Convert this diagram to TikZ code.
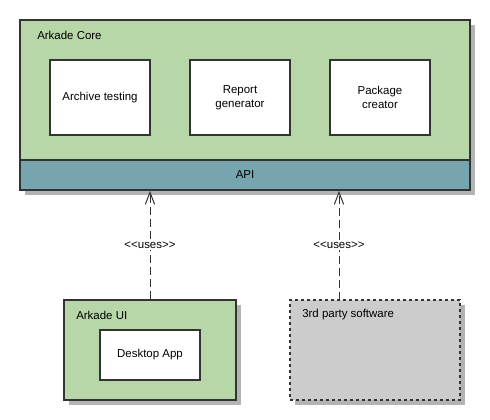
\documentclass[tikz,border=0pt]{standalone}
\usepackage{fontspec}
\setmainfont{Liberation Sans}
\usetikzlibrary{arrows.meta,shadows}

\definecolor{coregreen}{HTML}{B7D7A8}
\definecolor{apiteal}{HTML}{76A5AF}
\definecolor{thirdgray}{HTML}{CCCCCC}
\definecolor{boxline}{HTML}{333333}
\definecolor{shadowgray}{HTML}{B3B3B3}

\newcommand{\usestag}{<\kern0pt<uses>\kern0pt>}

\begin{document}
\begin{tikzpicture}[x=0.75pt,y=0.75pt,yscale=-1,xscale=1,
  font=\fontsize{8.6}{10.5}\selectfont,
  box/.style={draw=boxline, line width=1.5pt, inner sep=0pt, align=center},
  shadowed/.style={drop shadow={shadow xshift=3.5pt, shadow yshift=-3.5pt, fill=shadowgray, opacity=1}},
  uses/.style={draw=boxline, line width=0.75pt, dash pattern=on 6pt off 3pt, -{Straight Barb[length=9pt,width=7pt]}},
  tag/.style={fill=white, inner sep=1pt}]
\useasboundingbox (0,0) rectangle (490,420);

%Shape: Rectangle [core]
\node [box, shadowed, fill=coregreen, minimum width=337.5pt, minimum height=105pt] (core) at (245,90) {};
%Shape: Rectangle [api]
\node [box, shadowed, fill=apiteal, minimum width=337.5pt, minimum height=22.5pt] (api) at (245,175) {API};
%Shape: Rectangle [inner boxes]
\node [box, fill=white, minimum width=75pt, minimum height=56.25pt] (archive) at (100,97.5) {Archive testing};
\node [box, fill=white, minimum width=75pt, minimum height=56.25pt] (report) at (240,97.5) {Report\\generator};
\node [box, fill=white, minimum width=75pt, minimum height=56.25pt] (package) at (380,97.5) {Package\\creator};

%Shape: Rectangle [ui]
\node [box, shadowed, fill=coregreen, minimum width=129pt, minimum height=75pt] (ui) at (150,350) {};
\node [box, fill=white, minimum width=75pt, minimum height=37.5pt] (desktop) at (150,355) {Desktop App};
%Shape: Rectangle [third party]
\node [box, shadowed, fill=thirdgray, dash pattern=on 2.25pt off 2.25pt, minimum width=127.5pt, minimum height=75pt] (third) at (375,350) {};

% Text Node
\node [anchor=west, inner sep=0pt] (corelabel) at (37,35) {Arkade Core};
% Text Node
\node [anchor=west, inner sep=0pt] (uilabel) at (76,315) {Arkade UI};
% Text Node
\node [anchor=west, inner sep=0pt] (thirdlabel) at (302,315) {3rd party software};

%Straight Lines [uses]
\coordinate (thirdin) at (339,300);
\draw [uses] (ui.north) -- node [tag] (usesleft) {\usestag} (api.south -| ui.north);
\draw [uses] (thirdin) -- node [tag] (usesright) {\usestag} (api.south -| thirdin);

\end{tikzpicture}
\end{document}
